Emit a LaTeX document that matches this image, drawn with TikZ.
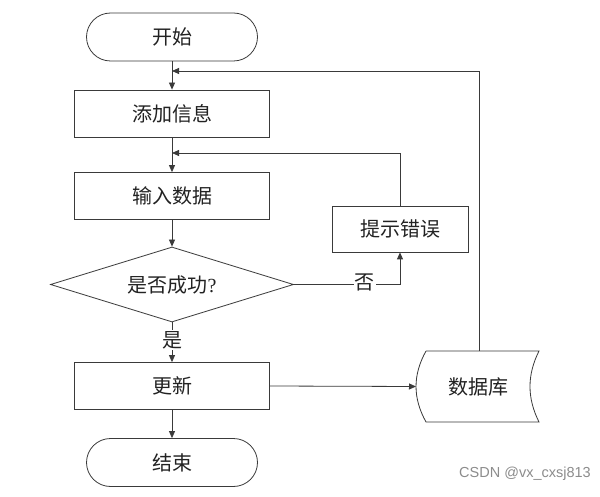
\documentclass[tikz,border=0pt]{standalone}
\usepackage{fontspec}
\setmainfont{Liberation Serif}
\newfontfamily\cjk{Noto Sans CJK SC}
\newfontfamily\wmfont{Liberation Sans}
\usetikzlibrary{arrows.meta,shapes.geometric,calc}
\definecolor{ln}{HTML}{3A3A3A}
\definecolor{tx}{HTML}{222222}
\begin{document}
\begin{tikzpicture}[x=1pt,y=-1pt,
  every node/.style={text=tx},
  base/.style={draw=ln,line width=0.8pt,font=\cjk\fontsize{20}{22}\selectfont,inner sep=0pt},
  proc/.style={base,rectangle,minimum width=195pt,minimum height=47pt},
  term/.style={base,rectangle,rounded corners=24pt,minimum width=171pt,minimum height=48pt},
  dec/.style={base,diamond,aspect=3.24,minimum width=243pt,minimum height=75pt},
  arr/.style={draw=ln,line width=0.8pt,-{Triangle[length=7pt,width=6pt]}},
  lbl/.style={font=\cjk\fontsize{20}{22}\selectfont,fill=white,inner sep=1pt}]
\useasboundingbox (0,0) rectangle (600,497);
\fill[white] (0,0) rectangle (600,497);

\node[term] (start) at (172,37) {开始};
\node[proc] (add) at (172,113.5) {添加信息};
\node[proc] (input) at (172,196) {输入数据};
\node[dec] (dec) at (172,284.5) {是否成功{\rmfamily ?}};
\node[proc] (upd) at (172,386) {更新};
\node[term] (stop) at (172,462.5) {结束};
\node[base,rectangle,minimum width=136pt,minimum height=46pt] (err) at (400,229) {提示错误};

% database shape
\coordinate (dbNW) at (426,351);
\coordinate (dbNE) at (539,351);
\coordinate (dbSE) at (539,422);
\coordinate (dbSW) at (426,422);
\coordinate (dbW) at (416,386.5);
\coordinate (dbN) at (479,351);
\draw[ln,line width=0.8pt] (dbNW) -- (dbNE)
  .. controls (527,375) and (527,398) .. (dbSE) -- (dbSW)
  .. controls (412.7,398) and (412.7,375) .. (dbNW);
\node[font=\cjk\fontsize{20}{22}\selectfont] (db) at (478,387) {数据库};

\coordinate (j1) at (172,71);
\coordinate (j2) at (172,153);

\draw[arr] (start) -- (add);
\draw[arr] (add) -- (input);
\draw[arr] (input) -- (dec);
\draw[arr] (dec.south) -- node[lbl,pos=0.45]{是} (upd.north);
\draw[arr] (upd) -- (stop);
\draw[arr] (dec.east) -- node[lbl,pos=0.67,yshift=2pt]{否} (err.south |- dec.east) -- (err.south);
\draw[arr] (err.north) |- (j2);
\draw[arr] (dbN) |- (j1);
\draw[arr] (upd.east) -- (dbW);

\node[font=\wmfont\fontsize{14.5}{16}\selectfont,text=black!45] (wm) at (525,474) {CSDN @vx\_cxsj813};
\end{tikzpicture}
\end{document}
